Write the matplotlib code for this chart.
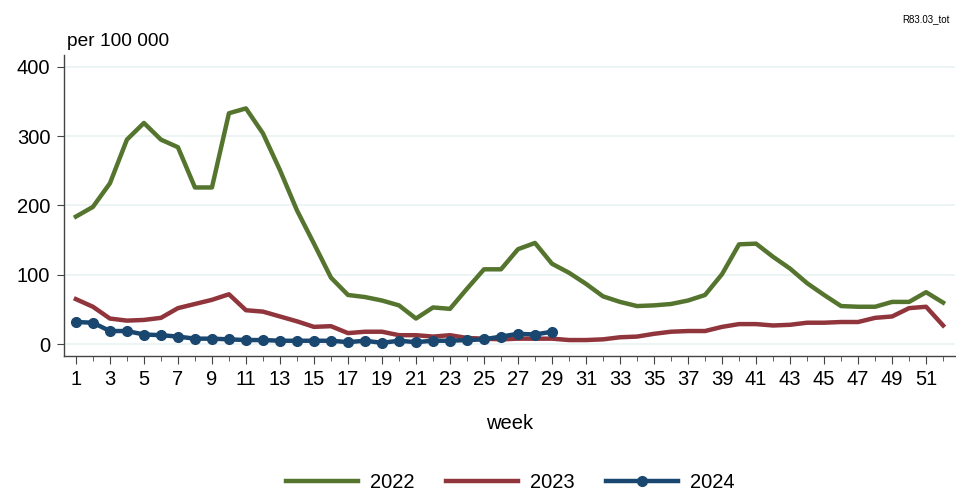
import matplotlib
matplotlib.use("Agg")
import matplotlib.pyplot as plt
from matplotlib.ticker import MultipleLocator

plt.rcParams['font.family'] = ['Liberation Sans', 'DejaVu Sans']

weeks_2022 = list(range(1, 53))
vals_2022 = [184, 198, 232, 295, 319, 295, 284, 226, 226, 333,
             340, 304, 251, 193, 145, 96, 71, 68, 63, 56,
             37, 53, 51, 80, 108, 108, 137, 146, 116, 103,
             87, 69, 61, 55, 56, 58, 63, 71, 101, 144,
             145, 126, 109, 88, 71, 55, 54, 54, 61, 61,
             75, 60]
weeks_2023 = list(range(1, 53))
vals_2023 = [65, 54, 37, 34, 35, 38, 52, 58, 64, 72,
             49, 47, 40, 33, 25, 26, 16, 18, 18, 13,
             13, 11, 13, 9, 8, 7, 8, 8, 8, 6,
             6, 7, 10, 11, 15, 18, 19, 19, 25, 29,
             29, 27, 28, 31, 31, 32, 32, 38, 40, 52,
             54, 27]
weeks_2024 = list(range(1, 30))
vals_2024 = [32, 31, 19, 19, 14, 13, 11, 8, 8, 7,
             6, 6, 5, 5, 5, 5, 3, 5, 2, 5,
             3, 5, 5, 6, 7, 11, 15, 14, 18]

series_labels = ['2022', '2023', '2024']
colors = ['#55752f', '#90353b', '#1a476f']
x_ticks = list(range(1, 52, 2))
y_ticks = [0, 100, 200, 300, 400]

fig = plt.figure(figsize=(9.56, 4.91), dpi=100)
ax = fig.add_axes([63.5/956, 1-356/491, (955-63.5)/956, (356-55)/491])

ax.plot(weeks_2022, vals_2022, color=colors[0], lw=3.2, label=series_labels[0], zorder=3)
ax.plot(weeks_2023, vals_2023, color=colors[1], lw=3.2, label=series_labels[1], zorder=3)
ax.plot(weeks_2024, vals_2024, color=colors[2], lw=3.2, marker='o', ms=7,
        label=series_labels[2], zorder=4)

ax.set_xlim(0.27, 52.7)
ax.set_ylim(-17, 417)
ax.set_yticks(y_ticks)
ax.set_xticks(x_ticks)
ax.xaxis.set_minor_locator(MultipleLocator(1))
ax.grid(axis='y', color='#eaf2f3', lw=1.2, zorder=0)
ax.set_axisbelow(True)
for s in ['top', 'right']:
    ax.spines[s].set_visible(False)
for s in ['left', 'bottom']:
    ax.spines[s].set_color('#444444')
    ax.spines[s].set_linewidth(1.0)
ax.tick_params(axis='y', labelsize=14.5, length=5, color='#444444', pad=4.5)
ax.tick_params(axis='x', which='major', labelsize=14.5, length=6, color='#444444', pad=4)
ax.tick_params(axis='x', which='minor', length=3.5, color='#444444')

ax.set_xlabel('week', fontsize=14.5, labelpad=18)

fig.text(67/956, 1-41/491, 'per 100 000', fontsize=13.8, ha='left', va='center')
fig.text(950/956, 1-19/491, 'R83.03_tot', fontsize=7, ha='right', va='center')

fig.legend(loc='center', bbox_to_anchor=(510/956, 1-483/491), ncol=3, frameon=False,
           fontsize=14.5, handlelength=3.58, columnspacing=1.55, handletextpad=0.6)

fig.savefig('out.png', dpi=100)
